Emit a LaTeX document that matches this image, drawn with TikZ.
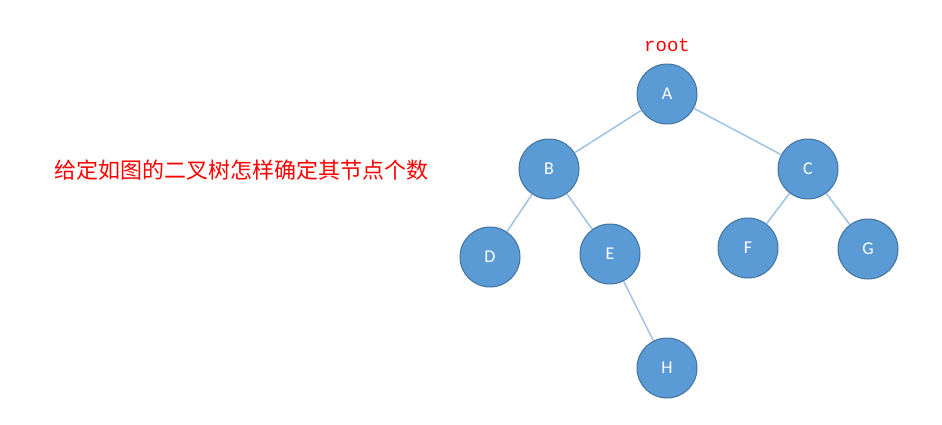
\documentclass[tikz,border=0pt]{standalone}
\usepackage{fontspec}
\setmainfont{Carlito}
\newfontfamily\cjk{Noto Sans CJK SC}
\newfontfamily\rootfont{Liberation Mono}
\definecolor{nodefill}{HTML}{5B9BD5}
\definecolor{nodeline}{HTML}{41719C}
\definecolor{edgeblue}{HTML}{9DC3E6}

\begin{document}
\begin{tikzpicture}[x=1pt,y=-1pt]
    \tikzstyle{vertex}=[circle,fill=nodefill,draw=nodeline,line width=1pt,minimum size=60pt,inner sep=0pt,text=white,font=\fontsize{18}{18}\selectfont]
    \tikzstyle{edge}=[edgeblue,line width=1.5pt]
    \useasboundingbox (0,0) rectangle (942,424);
    \node[text=red,font=\cjk\fontsize{22}{22}\selectfont] (title) at (241,170) {给定如图的二叉树怎样确定其节点个数};
    \node[vertex] (T_A) at (667,94) {A};
    \node[vertex] (T_B) at (549,169) {B};
    \node[vertex] (T_C) at (808,169) {C};
    \node[vertex] (T_D) at (490,257) {D};
    \node[vertex] (T_E) at (610,254) {E};
    \node[vertex] (T_F) at (748,248) {F};
    \node[vertex] (T_G) at (868,249) {G};
    \node[vertex] (T_H) at (667,368) {H};
    \node[text=red,font=\rootfont\fontsize{19}{19}\selectfont] (root) at (667,45) {root};
    \draw [edge] (T_A) -- (T_B);
    \draw [edge] (T_A) -- (T_C);
    \draw [edge] (T_B) -- (T_D);
    \draw [edge] (T_B) -- (T_E);
    \draw [edge] (T_C) -- (T_F);
    \draw [edge] (T_C) -- (T_G);
    \draw [edge] (T_E) -- (T_H);
  \end{tikzpicture}
\end{document}
